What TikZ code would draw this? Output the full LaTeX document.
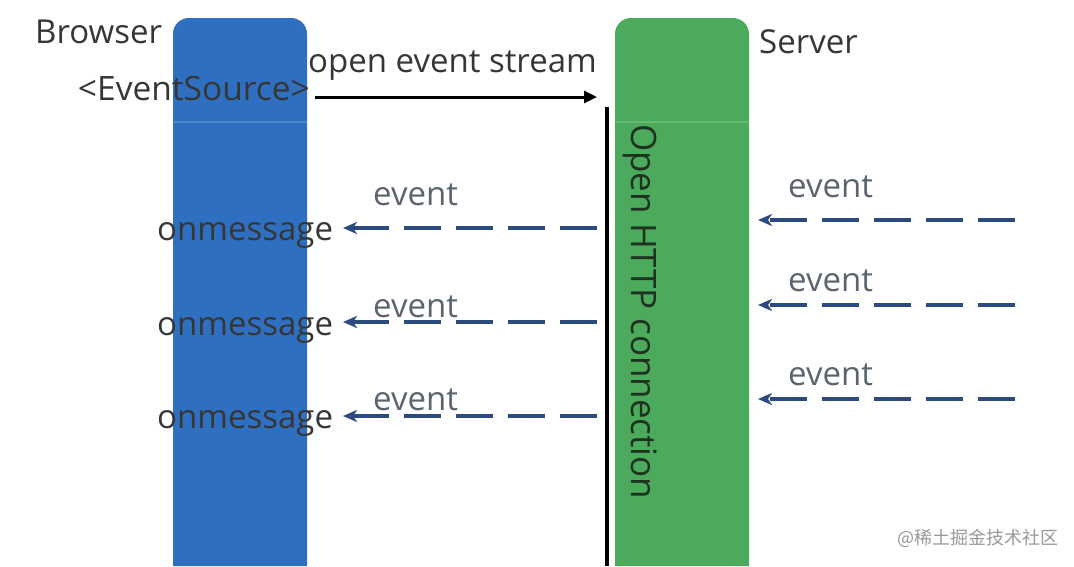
\documentclass[tikz,border=0pt]{standalone}
\usepackage{fontspec}
\setmainfont{Open Sans}
\newfontfamily\cjk{Noto Sans CJK SC}
\usetikzlibrary{arrows.meta}
\definecolor{barblue}{HTML}{2F6FC0}
\definecolor{barblueline}{HTML}{4C86CE}
\definecolor{bargreen}{HTML}{4CAA5C}
\definecolor{bargreenline}{HTML}{66BB74}
\definecolor{evblue}{HTML}{2B4B7E}
\definecolor{txtdark}{HTML}{363636}
\definecolor{txtev}{HTML}{5C6470}
\definecolor{txtgreen}{HTML}{1E321F}
\tikzset{
  lbl/.style={inner sep=0pt, text=txtdark, font=\fontsize{33}{36}\selectfont},
  evlbl/.style={inner sep=0pt, text=txtev, font=\fontsize{33}{36}\selectfont},
  evarrow/.style={draw=evblue, line width=3.5pt, dash pattern=on 37pt off 15pt,
    -{Stealth[length=14pt,width=12pt,inset=4pt]}},
  openarrow/.style={draw=black, line width=3pt, -{Triangle[length=13pt,width=12pt]}},
}
\begin{document}
\begin{tikzpicture}[x=1pt,y=-1pt]
\useasboundingbox (0,0) rectangle (1074,566);
\fill[white] (0,0) rectangle (1074,566);
% bars
\fill[barblue, rounded corners=16pt] (173,566) -- (173,18) -- (307,18) -- (307,566);
\fill[bargreen, rounded corners=16pt] (615,566) -- (615,18) -- (749,18) -- (749,566);
\draw[barblueline, line width=1.5pt] (173,122) -- (307,122);
\draw[bargreenline, line width=1.5pt] (615,122) -- (749,122);
% open connection line
\coordinate (ltop) at (607,107);
\coordinate (lbot) at (607,566);
\draw[black, line width=3.5pt] (ltop) -- (lbot);
% labels
\node[lbl, anchor=base west] (browser) at (35,43) {Browser};
\node[lbl, anchor=base east, font=\fontsize{33.5}{36}\selectfont] (es) at (310,100) {<EventSource>};
\node[lbl, anchor=base west] (open) at (308,72) {open event stream};
\node[lbl, anchor=base west] (server) at (759,53) {Server};
\node[lbl, text=txtgreen, anchor=base west, rotate=-90, font=\fontsize{35}{38}\selectfont] (http) at (631,124) {Open HTTP connection};
% open arrow
\coordinate (openstart) at (315,97);
\coordinate (openend) at (597,97);
\draw[openarrow] (openstart) -- (openend);
% onmessage + events (left)
\foreach \i/\yb/\ya/\ye in {1/240/228/205, 2/335/322/317, 3/428/416/410}{
  \node[lbl, anchor=base west] (om\i) at (157,\yb) {onmessage};
  \node[evlbl, anchor=base west] (el\i) at (373,\ye) {event};
  \coordinate (ls\i) at (597,\ya);
  \coordinate (le\i) at (343,\ya);
  \draw[evarrow] (ls\i) -- (le\i);
}
% events (right)
\foreach \i/\ya/\ye in {1/220/197, 2/305/291, 3/399/385}{
  \node[evlbl, anchor=base west] (er\i) at (788,\ye) {event};
  \coordinate (rs\i) at (1015,\ya);
  \coordinate (re\i) at (758,\ya);
  \draw[evarrow] (rs\i) -- (re\i);
}
% watermark
\node[inner sep=0pt, anchor=west, text=black!40, font=\cjk\fontsize{18}{20}\selectfont] (wm) at (897,538) {@稀土掘金技术社区};
\end{tikzpicture}
\end{document}
